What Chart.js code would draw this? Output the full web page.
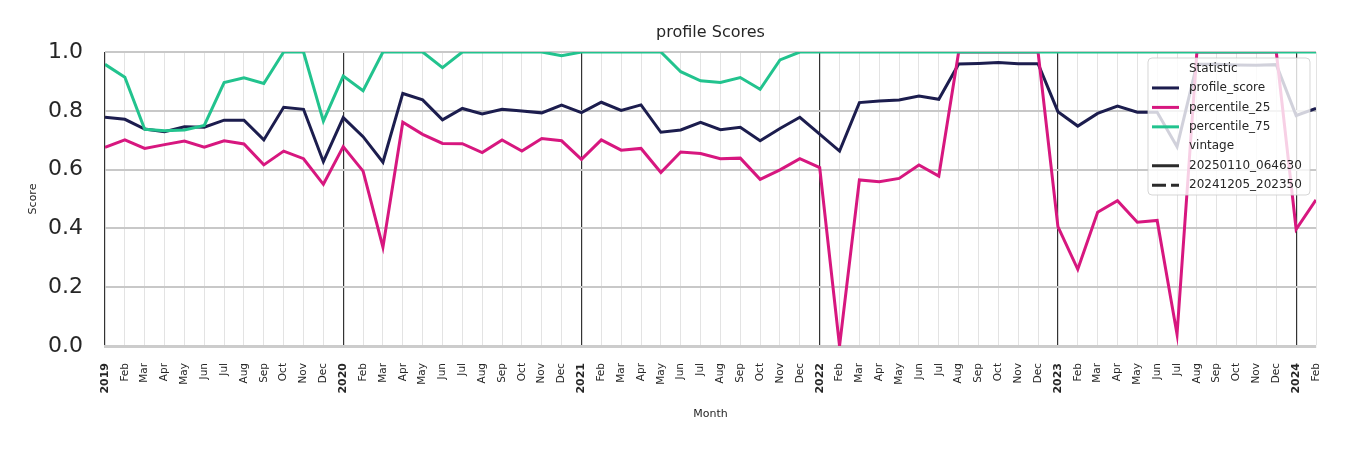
<!DOCTYPE html>
<html>
<head>
<meta charset="utf-8">
<script src="https://cdn.jsdelivr.net/npm/chart.js@4"></script>
<style>
  html, body { margin: 0; padding: 0; background: #ffffff; }
  #wrap { width: 1350px; height: 450px; }
</style>
</head>
<body>
<div id="wrap"><canvas id="c" width="1350" height="450"></canvas></div>
<script>
const months = ["2019","Feb","Mar","Apr","May","Jun","Jul","Aug","Sep","Oct","Nov","Dec",
  "2020","Feb","Mar","Apr","May","Jun","Jul","Aug","Sep","Oct","Nov","Dec",
  "2021","Feb","Mar","Apr","May","Jun","Jul","Aug","Sep","Oct","Nov","Dec",
  "2022","Feb","Mar","Apr","May","Jun","Jul","Aug","Sep","Oct","Nov","Dec",
  "2023","Feb","Mar","Apr","May","Jun","Jul","Aug","Sep","Oct","Nov","Dec",
  "2024","Feb"];

const profileScore = [0.778,0.771,0.738,0.729,0.746,0.744,0.768,0.768,0.701,0.812,0.805,0.627,
  0.777,0.712,0.625,0.859,0.837,0.769,0.808,0.789,0.805,0.799,0.793,0.819,
  0.794,0.829,0.801,0.820,0.727,0.735,0.761,0.736,0.744,0.698,0.740,0.778,
  0.721,0.663,0.828,0.833,0.837,0.850,0.839,0.959,0.961,0.964,0.960,0.960,
  0.797,0.748,0.791,0.816,0.795,0.795,0.678,0.958,0.958,0.956,0.955,0.957,
  0.784,0.808];

const percentile25 = [0.676,0.701,0.672,0.685,0.697,0.676,0.698,0.687,0.616,0.663,0.637,0.550,
  0.678,0.595,0.336,0.761,0.720,0.689,0.688,0.658,0.701,0.663,0.706,0.698,
  0.635,0.701,0.666,0.672,0.590,0.660,0.655,0.637,0.639,0.567,0.599,0.637,
  0.607,0.0,0.565,0.559,0.570,0.616,0.578,1.0,1.0,1.0,1.0,1.0,
  0.406,0.261,0.455,0.494,0.421,0.427,0.040,1.0,1.0,1.0,1.0,1.0,
  0.397,0.497];

const percentile75 = [0.958,0.914,0.737,0.732,0.735,0.750,0.896,0.912,0.893,1.0,1.0,0.765,
  0.918,0.868,1.0,1.0,1.0,0.947,1.0,1.0,1.0,1.0,1.0,0.987,
  1.0,1.0,1.0,1.0,1.0,0.933,0.902,0.896,0.913,0.873,0.973,1.0,
  1.0,1.0,1.0,1.0,1.0,1.0,1.0,1.0,1.0,1.0,1.0,1.0,
  1.0,1.0,1.0,1.0,1.0,1.0,1.0,1.0,1.0,1.0,1.0,1.0,
  1.0,1.0];

const yTicks = [0.0, 0.2, 0.4, 0.6, 0.8, 1.0];

const FONT = "'DejaVu Sans', 'Liberation Sans', sans-serif";
const TXT = '#262626';
const C_NAVY = '#1c1d4e';
const C_MAG = '#d7177f';
const C_GREEN = '#22c38e';

const legendItems = [
  {type: 'title', text: 'Statistic'},
  {type: 'line', text: 'profile_score', color: C_NAVY, dash: []},
  {type: 'line', text: 'percentile_25', color: C_MAG, dash: []},
  {type: 'line', text: 'percentile_75', color: C_GREEN, dash: []},
  {type: 'title', text: 'vintage'},
  {type: 'line', text: '20250110_064630', color: '#2b2b2b', dash: []},
  {type: 'line', text: '20241205_202350', color: '#2b2b2b', dash: [14, 5]}
];

const overlayPlugin = {
  id: 'overlay',
  afterDraw(chart) {
    const ctx = chart.ctx;
    const a = chart.chartArea;
    ctx.save();
    // title
    ctx.fillStyle = TXT;
    ctx.font = "16px " + FONT;
    ctx.textAlign = 'center';
    ctx.textBaseline = 'middle';
    ctx.fillText('profile Scores', (a.left + a.right) / 2, 33);

    // legend
    const w = 162, h = 137;
    const x0 = a.right - 6 - w, y0 = a.top + 6;
    const r = 4;
    ctx.beginPath();
    ctx.moveTo(x0 + r, y0);
    ctx.lineTo(x0 + w - r, y0);
    ctx.quadraticCurveTo(x0 + w, y0, x0 + w, y0 + r);
    ctx.lineTo(x0 + w, y0 + h - r);
    ctx.quadraticCurveTo(x0 + w, y0 + h, x0 + w - r, y0 + h);
    ctx.lineTo(x0 + r, y0 + h);
    ctx.quadraticCurveTo(x0, y0 + h, x0, y0 + h - r);
    ctx.lineTo(x0, y0 + r);
    ctx.quadraticCurveTo(x0, y0, x0 + r, y0);
    ctx.closePath();
    ctx.fillStyle = 'rgba(255,255,255,0.8)';
    ctx.fill();
    ctx.strokeStyle = 'rgba(204,204,204,0.8)';
    ctx.lineWidth = 1;
    ctx.stroke();

    ctx.font = "12px " + FONT;
    ctx.textAlign = 'left';
    ctx.textBaseline = 'middle';
    legendItems.forEach((it, k) => {
      const cy = y0 + 10.5 + k * 19.45;
      if (it.type === 'line') {
        ctx.beginPath();
        ctx.setLineDash(it.dash);
        ctx.strokeStyle = it.color;
        ctx.lineWidth = 3;
        ctx.moveTo(x0 + 4, cy);
        ctx.lineTo(x0 + 31, cy);
        ctx.stroke();
        ctx.setLineDash([]);
      }
      ctx.fillStyle = TXT;
      ctx.fillText(it.text, x0 + 41, cy);
    });
    ctx.restore();
  }
};

const lineDs = (label, data, color, order) => ({
  label, data, borderColor: color, backgroundColor: color,
  borderWidth: 3, pointRadius: 0, pointHoverRadius: 0, tension: 0,
  fill: false, clip: 0, order
});

new Chart(document.getElementById('c'), {
  type: 'line',
  data: {
    labels: months,
    datasets: [
      lineDs('profile_score', profileScore, C_NAVY, 2),
      lineDs('percentile_25', percentile25, C_MAG, 1),
      lineDs('percentile_75', percentile75, C_GREEN, 0)
    ]
  },
  options: {
    responsive: false,
    animation: false,
    devicePixelRatio: 1,
    layout: { padding: { left: 0, right: 34, top: 52, bottom: 29 } },
    plugins: {
      legend: { display: false },
      title: { display: false },
      tooltip: { enabled: false }
    },
    scales: {
      x: {
        type: 'category',
        offset: false,
        grid: {
          drawTicks: false,
          color: (c) => (c.index % 12 === 0 ? '#333333' : '#e3e3e3'),
          lineWidth: (c) => (c.index % 12 === 0 ? 1.2 : 1)
        },
        border: { display: true, color: '#cccccc', width: 3 },
        ticks: {
          autoSkip: false,
          maxRotation: 90,
          minRotation: 90,
          padding: 17,
          color: TXT,
          font: (c) => (c.index % 12 === 0
            ? { family: FONT, size: 11, weight: 'bold' }
            : { family: FONT, size: 10.5 })
        },
        title: {
          display: true, text: 'Month', color: TXT,
          font: { family: FONT, size: 11 },
          padding: { top: 0, bottom: 0 }
        },
        afterFit: (s) => { s.height = 75; }
      },
      y: {
        min: 0, max: 1,
        afterBuildTicks: (s) => { s.ticks = yTicks.map(v => ({ value: v })); },
        grid: { drawTicks: false, color: '#c8c8c8', lineWidth: 2 },
        border: { display: false },
        ticks: {
          padding: 22,
          color: TXT,
          font: { family: FONT, size: 22 },
          callback: (v) => Number(v).toFixed(1)
        },
        title: {
          display: true, text: 'Score', color: TXT,
          font: { family: FONT, size: 11 },
          padding: { top: 27, bottom: 0 }
        },
        afterFit: (s) => { s.width = 105; }
      }
    }
  },
  plugins: [overlayPlugin]
});
</script>
</body>
</html>
